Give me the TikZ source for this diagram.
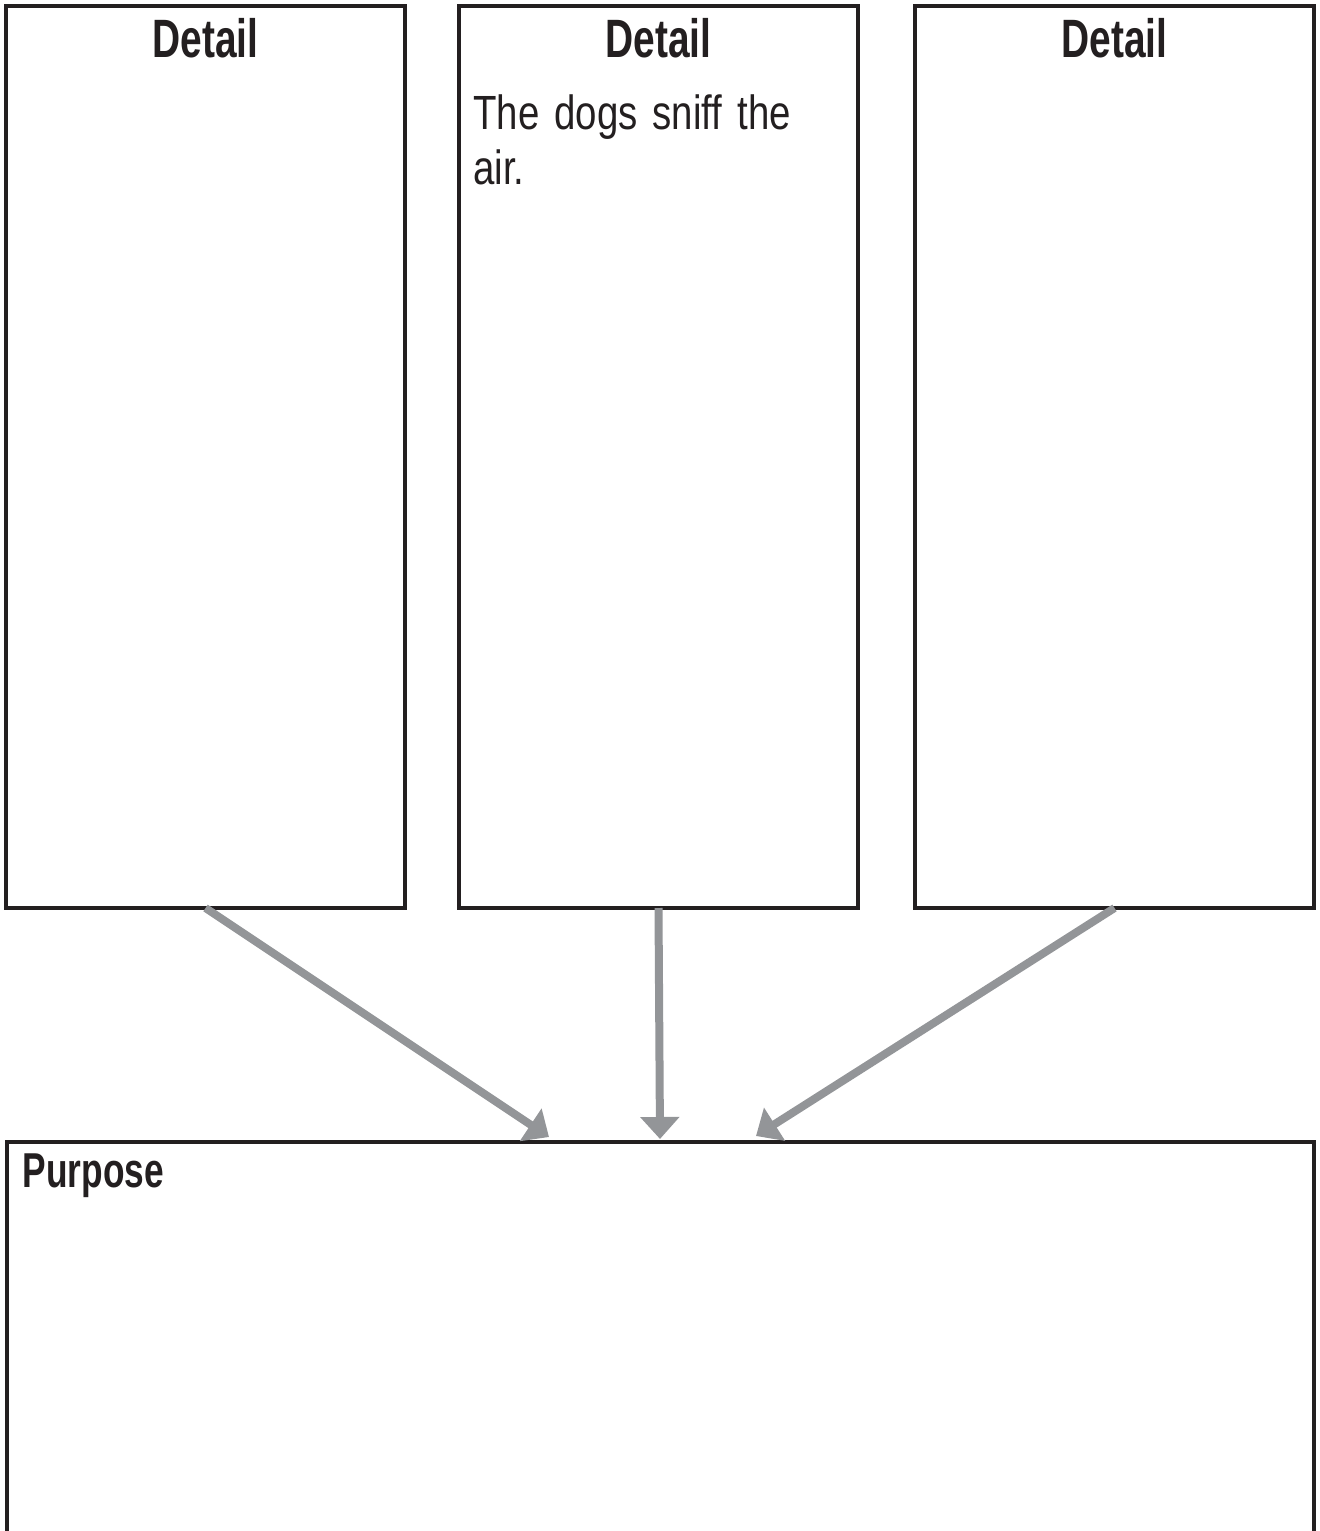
\documentclass[tikz,border=0pt]{standalone}
\usepackage{fontspec}
\setmainfont{Liberation Sans}
\newfontfamily\headfont{Liberation Sans}[FakeStretch=0.72]
\newfontfamily\bodyfont{Liberation Sans}[FakeStretch=0.8,WordSpace=1.4]
\usetikzlibrary{positioning}
\usetikzlibrary{arrows.meta}
\usetikzlibrary{calc}
\definecolor{boxline}{HTML}{231F20}
\definecolor{arrowgray}{HTML}{939598}

\begin{document}
\begin{tikzpicture}[x=0.5pt,y=-0.5pt,
  detailbox/.style={draw=boxline,line width=2pt,outer sep=0pt,inner sep=0pt,
    minimum width=199.5pt,minimum height=451pt},
  head/.style={font=\headfont\bfseries\fontsize{27}{30}\selectfont,text=boxline,inner sep=0pt},
  body/.style={font=\bodyfont\fontsize{24}{27.5}\selectfont,text=boxline,inner sep=0pt},
  feed/.style={draw=arrowgray,line width=4pt,-{Triangle[length=11pt,width=19pt]}}]
  \useasboundingbox (0,0) rectangle (1319,1531);
  \node[detailbox](det1) at (205.5,457) {};
  \node[detailbox,right=27pt of det1](det2) {};
  \node[detailbox,right=28.5pt of det2](det3) {};
  \node[detailbox,below=117pt of det2,xshift=0.75pt,minimum width=653.5pt,minimum height=209pt](purpose) {};
  \node[head,anchor=base](head1) at ($(det1.north)+(0,51)$) {Detail};
  \node[head,anchor=base](head2) at ($(det2.north)+(0,51)$) {Detail};
  \node[head,anchor=base](head3) at ($(det3.north)+(0,51)$) {Detail};
  \node[body,anchor=north west,align=left](dogs) at ($(det2.north west)+(14,88)$) {The dogs sniff the\\air.};
  \node[head,font=\headfont\bfseries\fontsize{24.5}{27}\selectfont,anchor=base west](ptitle) at ($(purpose.north west)+(16,45)$) {Purpose};
  % arrow tips just above the purpose box
  \coordinate (tipA) at ($(purpose.north)+(-111,-5)$);
  \coordinate (tipB) at ($(purpose.north)+(0,-3)$);
  \coordinate (tipC) at ($(purpose.north)+(96,-6)$);
  \draw[feed] (det1.south)--(tipA);
  \draw[feed] (det2.south)--(tipB);
  \draw[feed] (det3.south)--(tipC);
\end{tikzpicture}
\end{document}
